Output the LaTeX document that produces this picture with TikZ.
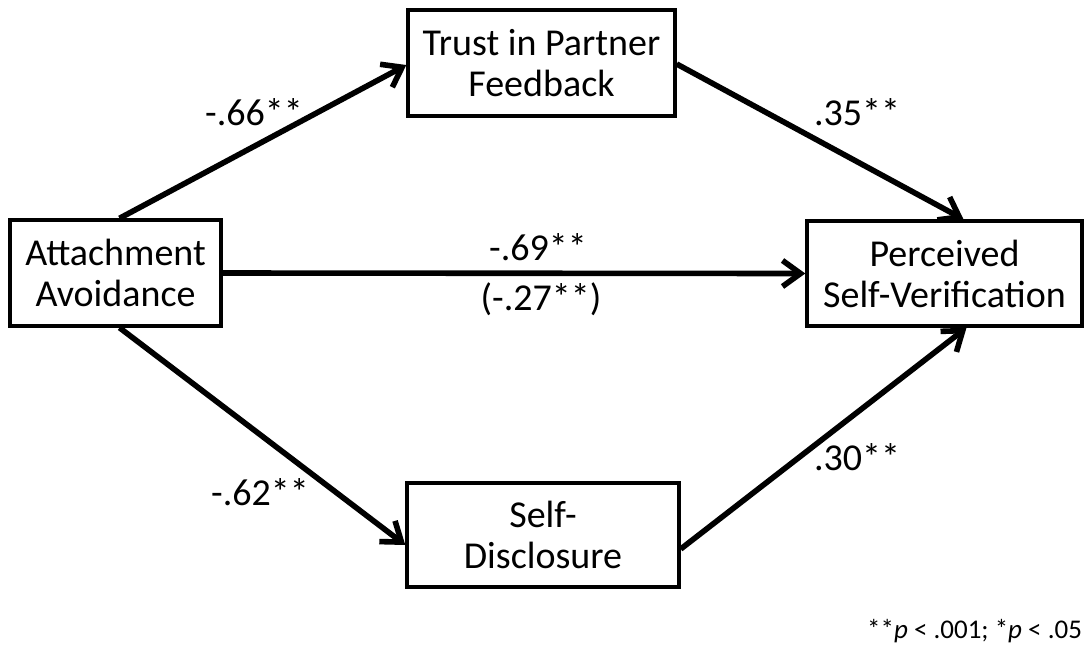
\documentclass[tikz,border=0pt]{standalone}
\usepackage{fontspec}
\setmainfont{Carlito}
\usepackage{tikz}
\usetikzlibrary{arrows.meta,positioning}
\tikzstyle{arrowline} = [draw, line width=2.8pt, -{Straight Barb[length=9pt,width=13pt,line width=2.8pt]}]
\tikzstyle{varbox} = [draw, line width=1.7pt, align=center, inner sep=0pt]
\tikzset{
    every node/.style={font=\fontsize{19}{20.5}\selectfont},
    coef/.style={anchor=base}
}

\begin{document}
\begin{tikzpicture}[x=0.5pt,y=-0.5pt]
            \useasboundingbox (0,0) rectangle (1091,654);

            % Draw variable boxes
            \node[varbox,minimum width=105.5pt,minimum height=53pt] (avoid) at (115.5,273) {Attachment\\Avoidance};
            \node[varbox,minimum width=133.5pt,minimum height=53pt] (trust) at (541.5,63) {Trust in Partner\\Feedback};
            \node[varbox,minimum width=137.5pt,minimum height=52.5pt] (verif) at (944.5,273.5) {Perceived\\Self-Verification};
            \node[varbox,minimum width=136pt,minimum height=52pt] (disc) at (543,535) {Self-\\Disclosure};

            % Draw paths
            \path[arrowline] ([xshift=2pt]avoid.north) -- ([yshift=-1pt]trust.west);
            \path[arrowline] ([yshift=-0.5pt]trust.east) -- ([xshift=9.5pt]verif.north);
            \path[arrowline] (avoid.east) -- (verif.west);
            \path[arrowline] ([xshift=2pt]avoid.south) -- ([yshift=-5pt]disc.west);
            \path[arrowline] ([yshift=-7pt]disc.east) -- ([xshift=11pt]verif.south);

            % Add path coefficients
            \node[coef] (c1) at (254,125) {-.66**};
            \node[coef] (c2) at (857,125) {.35**};
            \node[coef] (c3) at (538,260) {-.69**};
            \node[coef] (c4) at (541,310) {(-.27**)};
            \node[coef] (c5) at (260,505) {-.62**};
            \node[coef] (c6) at (857,470) {.30**};

            % Add note
            \node[anchor=base east,font=\fontsize{13.5}{16}\selectfont] (note) at (1089,638) {**\textit{p} < .001; *\textit{p} < .05};
        \end{tikzpicture}
\end{document}
